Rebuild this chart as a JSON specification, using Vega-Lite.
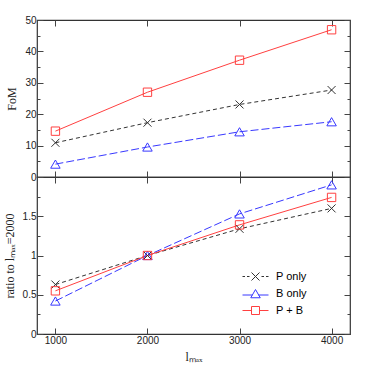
{
  "$schema": "https://vega.github.io/schema/vega-lite/v6.json",
  "padding": {"left": 2, "top": 14, "right": 20, "bottom": 4},
  "background": "white",
  "bounds": "flush",
  "data": {"values": [
    {"series": "P only", "lmax": 1000, "fom": 10.9, "ratio": 0.63},
    {"series": "P only", "lmax": 2000, "fom": 17.3, "ratio": 1.0},
    {"series": "P only", "lmax": 3000, "fom": 23.1, "ratio": 1.34},
    {"series": "P only", "lmax": 4000, "fom": 27.7, "ratio": 1.6},
    {"series": "B only", "lmax": 1000, "fom": 4.1, "ratio": 0.42},
    {"series": "B only", "lmax": 2000, "fom": 9.55, "ratio": 1.0},
    {"series": "B only", "lmax": 3000, "fom": 14.4, "ratio": 1.53},
    {"series": "B only", "lmax": 4000, "fom": 17.6, "ratio": 1.9},
    {"series": "P + B", "lmax": 1000, "fom": 14.6, "ratio": 0.55},
    {"series": "P + B", "lmax": 2000, "fom": 27.0, "ratio": 1.0},
    {"series": "P + B", "lmax": 3000, "fom": 37.2, "ratio": 1.39},
    {"series": "P + B", "lmax": 4000, "fom": 46.9, "ratio": 1.74}
  ]},
  "spacing": 0,
  "config": {
    "view": {"stroke": "#333", "strokeWidth": 1.2},
    "concat": {"spacing": 0},
    "axis": {"labelFont": "Liberation Sans", "labelFontSize": 10, "labelColor": "#222", "titleFont": "Liberation Serif", "titleFontSize": 12, "titleFontWeight": "normal", "titleColor": "#222", "tickColor": "#444", "tickWidth": 1, "domain": false, "grid": false}
  },
  "vconcat": [
    {
      "width": 313, "height": 157,
      "resolve": {"axis": {"x": "independent", "y": "independent"}},
      "layer": [
        {"transform": [{"filter": "datum.series === 'P only'"}], "mark": {"type": "line", "color": "#333", "strokeDash": [4, 3], "strokeWidth": 1},
         "encoding": {"x": {"field": "lmax", "type": "quantitative", "scale": {"domain": [800, 4200], "nice": false, "zero": false}, "axis": null}, "y": {"field": "fom", "type": "quantitative", "scale": {"domain": [0, 50], "nice": false}, "axis": null}}},
        {"transform": [{"filter": "datum.series === 'B only'"}], "mark": {"type": "line", "color": "#3838ff", "strokeDash": [8, 3], "strokeWidth": 1},
         "encoding": {"x": {"field": "lmax", "type": "quantitative", "axis": null}, "y": {"field": "fom", "type": "quantitative", "axis": null}}},
        {"transform": [{"filter": "datum.series === 'P + B'"}], "mark": {"type": "line", "color": "#ff4040", "strokeWidth": 1},
         "encoding": {"x": {"field": "lmax", "type": "quantitative", "axis": null}, "y": {"field": "fom", "type": "quantitative", "axis": null}}},
        {"transform": [{"filter": "datum.series === 'P only'"}], "mark": {"type": "point", "shape": "M-1,-1L1,1M-1,1L1,-1", "size": 64, "filled": false, "color": "#333", "strokeWidth": 1, "opacity": 1},
         "encoding": {"x": {"field": "lmax", "type": "quantitative", "axis": null}, "y": {"field": "fom", "type": "quantitative", "axis": null}}},
        {"transform": [{"filter": "datum.series === 'B only'"}], "mark": {"type": "point", "shape": "triangle-up", "size": 90, "filled": false, "color": "#3838ff", "strokeWidth": 1, "opacity": 1},
         "encoding": {"x": {"field": "lmax", "type": "quantitative", "axis": null}, "y": {"field": "fom", "type": "quantitative", "axis": null}}},
        {"transform": [{"filter": "datum.series === 'P + B'"}], "mark": {"type": "point", "shape": "square", "size": 70, "filled": false, "color": "#ff4040", "strokeWidth": 1, "opacity": 1},
         "encoding": {"x": {"field": "lmax", "type": "quantitative", "axis": null}, "y": {"field": "fom", "type": "quantitative", "axis": null}}},
        {"mark": {"type": "point", "opacity": 0},
         "encoding": {
           "x": {"field": "lmax", "type": "quantitative", "axis": {"orient": "bottom", "values": [1000, 2000, 3000, 4000], "labels": false, "tickSize": -6, "title": null, "minExtent": 0, "maxExtent": 0}},
           "y": {"field": "fom", "type": "quantitative", "axis": {"orient": "left", "values": [0, 5, 10, 15, 20, 25, 30, 35, 40, 45, 50], "tickSize": {"condition": {"test": "datum.value % 10 === 0", "value": -6}, "value": -3}, "labelExpr": "datum.value % 10 === 0 ? toString(datum.value) : ''", "labelPadding": 7, "title": "FoM", "titlePadding": 6}}}},
        {"mark": {"type": "point", "opacity": 0},
         "encoding": {
           "x": {"field": "lmax", "type": "quantitative", "axis": {"orient": "top", "values": [1000, 2000, 3000, 4000], "labels": false, "tickSize": -6, "title": null, "minExtent": 0, "maxExtent": 0}},
           "y": {"field": "fom", "type": "quantitative", "axis": {"orient": "right", "values": [0, 5, 10, 15, 20, 25, 30, 35, 40, 45, 50], "tickSize": {"condition": {"test": "datum.value % 10 === 0", "value": -6}, "value": -3}, "labels": false, "title": null, "minExtent": 0, "maxExtent": 0}}}}
      ]
    },
    {
      "width": 313, "height": 157,
      "resolve": {"axis": {"x": "independent", "y": "independent"}},
      "layer": [
        {"transform": [{"filter": "datum.series === 'P only'"}], "mark": {"type": "line", "color": "#333", "strokeDash": [4, 3], "strokeWidth": 1},
         "encoding": {"x": {"field": "lmax", "type": "quantitative", "scale": {"domain": [800, 4200], "nice": false, "zero": false}, "axis": null}, "y": {"field": "ratio", "type": "quantitative", "scale": {"domain": [0, 2], "nice": false}, "axis": null}}},
        {"transform": [{"filter": "datum.series === 'B only'"}], "mark": {"type": "line", "color": "#3838ff", "strokeDash": [8, 3], "strokeWidth": 1},
         "encoding": {"x": {"field": "lmax", "type": "quantitative", "axis": null}, "y": {"field": "ratio", "type": "quantitative", "axis": null}}},
        {"transform": [{"filter": "datum.series === 'P + B'"}], "mark": {"type": "line", "color": "#ff4040", "strokeWidth": 1},
         "encoding": {"x": {"field": "lmax", "type": "quantitative", "axis": null}, "y": {"field": "ratio", "type": "quantitative", "axis": null}}},
        {"transform": [{"filter": "datum.series === 'P only'"}], "mark": {"type": "point", "shape": "M-1,-1L1,1M-1,1L1,-1", "size": 64, "filled": false, "color": "#333", "strokeWidth": 1, "opacity": 1},
         "encoding": {"x": {"field": "lmax", "type": "quantitative", "axis": null}, "y": {"field": "ratio", "type": "quantitative", "axis": null}}},
        {"transform": [{"filter": "datum.series === 'B only'"}], "mark": {"type": "point", "shape": "triangle-up", "size": 90, "filled": false, "color": "#3838ff", "strokeWidth": 1, "opacity": 1},
         "encoding": {"x": {"field": "lmax", "type": "quantitative", "axis": null}, "y": {"field": "ratio", "type": "quantitative", "axis": null}}},
        {"transform": [{"filter": "datum.series === 'P + B'"}], "mark": {"type": "point", "shape": "square", "size": 70, "filled": false, "color": "#ff4040", "strokeWidth": 1, "opacity": 1},
         "encoding": {"x": {"field": "lmax", "type": "quantitative", "axis": null}, "y": {"field": "ratio", "type": "quantitative", "axis": null}}},
        {"transform": [{"filter": "datum.lmax === 2000"}], "mark": {"type": "point", "opacity": 0, "filled": false, "strokeWidth": 1},
         "encoding": {
           "x": {"field": "lmax", "type": "quantitative", "axis": null},
           "y": {"field": "ratio", "type": "quantitative", "axis": null},
           "color": {"field": "series", "type": "nominal", "scale": {"domain": ["P only", "B only", "P + B"], "range": ["#333333", "#3838ff", "#ff4040"]},
             "legend": {"orient": "none", "legendX": 213, "legendY": 251, "title": null, "symbolSize": 100, "symbolStrokeWidth": 1, "symbolOpacity": 1, "symbolFillColor": "transparent", "labelFont": "Liberation Sans", "labelFontSize": 11, "rowPadding": 4, "labelOffset": 15,
               "encode": {"labels": {"update": {"fill": {"signal": "datum.value === 'P only' ? '#222222' : datum.value === 'B only' ? '#3838ff' : '#ff4040'"}}}}}},
           "shape": {"field": "series", "type": "nominal", "scale": {"domain": ["P only", "B only", "P + B"], "range": [
             "M-2.6,0H-2.1M-1.7,0H-1.2M1.2,0H1.7M2.1,0H2.6M-0.8,-0.8L0.8,0.8M-0.8,0.8L0.8,-0.8",
             "M-2.6,0.3H-0.6M0.6,0.3H2.6M0,-0.8L0.95,0.85H-0.95Z",
             "M-2.6,0H-0.8M0.8,0H2.6M-0.8,-0.8H0.8V0.8H-0.8Z"
           ]}}
         }},
        {"mark": {"type": "point", "opacity": 0},
         "encoding": {
           "x": {"field": "lmax", "type": "quantitative", "axis": {"orient": "bottom", "values": [1000, 2000, 3000, 4000], "format": "d", "tickSize": -6, "labelPadding": 7, "title": "lₘₐₓ", "titlePadding": 6}},
           "y": {"field": "ratio", "type": "quantitative", "axis": {"orient": "left", "values": [0, 0.25, 0.5, 0.75, 1, 1.25, 1.5, 1.75, 2], "tickSize": {"condition": {"test": "abs(datum.value * 2 - round(datum.value * 2)) < 0.01", "value": -6}, "value": -3}, "labelExpr": "datum.value < 1.9 && abs(datum.value * 2 - round(datum.value * 2)) < 0.01 ? toString(datum.value) : ''", "labelPadding": 7, "title": "ratio to lₘₐₓ=2000", "titlePadding": 6}}}},
        {"mark": {"type": "point", "opacity": 0},
         "encoding": {
           "x": {"field": "lmax", "type": "quantitative", "axis": {"orient": "top", "values": [1000, 2000, 3000, 4000], "labels": false, "tickSize": -6, "title": null, "minExtent": 0, "maxExtent": 0}},
           "y": {"field": "ratio", "type": "quantitative", "axis": {"orient": "right", "values": [0, 0.25, 0.5, 0.75, 1, 1.25, 1.5, 1.75, 2], "tickSize": {"condition": {"test": "abs(datum.value * 2 - round(datum.value * 2)) < 0.01", "value": -6}, "value": -3}, "labels": false, "title": null, "minExtent": 0, "maxExtent": 0}}}}
      ]
    }
  ]
}
